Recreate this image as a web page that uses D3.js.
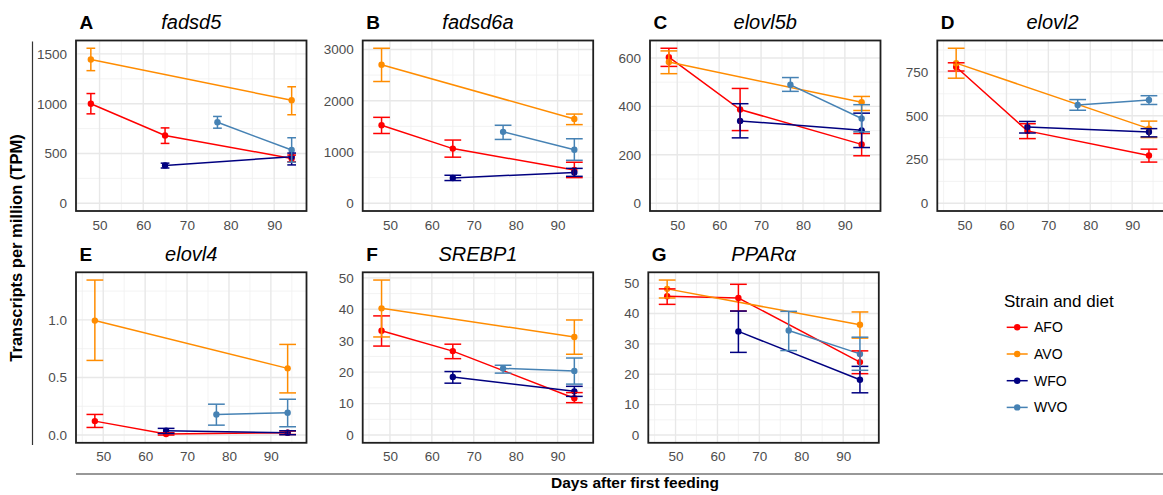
<!DOCTYPE html>
<html lang="en">
<head>
<meta charset="UTF-8"/>
<title>Transcripts per million by gene</title>
<script src="https://cdn.jsdelivr.net/npm/d3@7"></script>
<style>
body {
  margin: 0;
  background: #fff;
}
svg {
  font-family: "Liberation Sans", Arial, Helvetica, sans-serif;
}
.axis text {
  font-size: 13.5px;
  fill: #4d4d4d;
}
.axis path {
  display: none;
}
.grid-major {
  stroke: #e8e8e8;
  stroke-width: 1.4;
}
.grid-minor {
  stroke: #f0f0f0;
  stroke-width: 0.8;
}
.frame {
  fill: none;
  stroke: #1f1f1f;
  stroke-width: 1.8;
}
.letter {
  font-size: 19px;
  font-weight: 700;
}
.gene {
  font-size: 20px;
  font-style: italic;
}
.title {
  font-size: 15.5px;
  font-weight: 700;
}
</style>
</head>
<body>
<svg id="chart" width="1163" height="495"></svg>
<script>
// panels, A..G
const letters = ['A', 'B', 'C', 'D', 'E', 'F', 'G'];
const genes = ['fadsd5', 'fadsd6a', 'elovl5b', 'elovl2', 'elovl4', 'SREBP1', 'PPARα'];

// days sampled for each group
const daysAFO = [48, 65, 94];
const daysAVO = [48, 94];
const daysWFO = [65, 94];
const daysWVO = [77, 94];

// means, lower and upper error per panel (rows = A..G)
const meanAFO = [[1000, 681, 450], [1521, 1066, 650], [603, 387, 243], [778, 413, 273], [0.121, 0.009, 0.02], [33.2, 26.7, 11.7], [45.7, 45.1, 24.0]];
const lowAFO  = [[898, 601, 417], [1361, 899, 500], [565, 300, 196], [755, 369, 235], [0.066, 0.0, 0.005], [28.3, 24.3, 10.3], [43.0, 40.8, 20.2]];
const highAFO = [[1102, 757, 484], [1676, 1233, 800], [640, 474, 288], [802, 454, 309], [0.179, 0.02, 0.035], [37.9, 28.9, 13.5], [48.1, 49.6, 27.7]];

const meanAVO = [[1444, 1034], [2703, 1643], [583, 417], [800, 426], [0.994, 0.579], [40.3, 31.2], [48.1, 36.3]];
const lowAVO  = [[1332, 889], [2375, 1534], [535, 383], [714, 375], [0.648, 0.366], [31.2, 25.7], [45.1, 31.9]];
const highAVO = [[1557, 1170], [3024, 1740], [629, 441], [885, 469], [1.346, 0.787], [49.3, 36.6], [51.0, 40.5]];

const meanWFO = [[380, 467], [494, 600], [340, 301], [435, 407], [0.037, 0.02], [18.5, 13.9], [34.1, 18.2]];
const lowWFO  = [[354, 385], [443, 525], [270, 230], [401, 379], [0.014, 0.003], [16.5, 12.3], [27.2, 13.9]];
const highWFO = [[403, 504], [546, 680], [411, 372], [467, 426], [0.058, 0.037], [20.2, 15.5], [40.8, 22.6]];

const meanWVO = [[813, 535], [1393, 1045], [489, 350], [561, 590], [0.179, 0.193], [21.2, 20.4], [34.4, 26.7]];
const lowWVO  = [[754, 413], [1245, 838], [462, 295], [531, 564], [0.086, 0.072], [19.7, 16.2], [27.8, 21.3]];
const highWVO = [[872, 658], [1522, 1258], [519, 407], [592, 614], [0.268, 0.311], [22.2, 24.5], [40.7, 32.2]];

// error bar half width in days
const capHalf = [1, 2, 2, 2, 2, 2, 2];

// tick labels
const xTicks = [50, 60, 70, 80, 90];
const yTicks = [
  [0, 500, 1000, 1500],
  [0, 1000, 2000, 3000],
  [0, 200, 400, 600],
  [0, 250, 500, 750],
  [0, 0.5, 1.0],
  [0, 10, 20, 30, 40, 50],
  [0, 10, 20, 30, 40, 50]
];

const groups = ['AFO', 'AVO', 'WFO', 'WVO'];
const colors = ['#ff0000', '#ff8c00', '#000080', '#4682b4'];

const series = [
  { name: 'AFO', days: daysAFO, mean: meanAFO, low: lowAFO, high: highAFO },
  { name: 'AVO', days: daysAVO, mean: meanAVO, low: lowAVO, high: highAVO },
  { name: 'WFO', days: daysWFO, mean: meanWFO, low: lowWFO, high: highWFO },
  { name: 'WVO', days: daysWVO, mean: meanWVO, low: lowWVO, high: highWVO }
];

const color = d3.scaleOrdinal().domain(groups).range(colors);

// panel frames
const top1 = 40.5, top2 = 272.3, ph = 170.5, pw = 230.5;
const boxes = [
  { x: 76, y: top1 }, { x: 362.7, y: top1 }, { x: 650, y: top1 }, { x: 937.3, y: top1 },
  { x: 76, y: top2 }, { x: 362.7, y: top2 }, { x: 648.3, y: top2 }
];

const svg = d3.select('#chart');

genes.forEach((gene, i) => {
  const b = boxes[i];
  const g = svg.append('g').attr('transform', `translate(${b.x}, ${b.y})`);

  const allDays = series.flatMap(s => s.days);
  const d0 = d3.min(allDays) - capHalf[i];
  const d1 = d3.max(allDays) + capHalf[i];
  const dPad = (d1 - d0) * 0.05;
  const x = d3.scaleLinear().domain([d0 - dPad, d1 + dPad]).range([0, pw]);

  const yMax = d3.max(series, s => d3.max(s.high[i]));
  const y = d3.scaleLinear().domain([-0.05 * yMax, 1.05 * yMax]).range([ph, 0]);

  // grid
  const yt = yTicks[i];
  const step = yt[1] - yt[0];
  const yMinor = d3.range(yt[0] - step / 2, yt[yt.length - 1] + step, step)
    .filter(v => v > y.domain()[0] && v < y.domain()[1]);
  const xMinor = d3.range(45, 100, 10).filter(v => v > x.domain()[0] && v < x.domain()[1]);

  g.append('rect').attr('width', pw).attr('height', ph).attr('fill', '#fff');

  g.selectAll('.ym').data(yMinor).enter().append('line')
    .attr('class', 'grid-minor')
    .attr('x1', 0).attr('x2', pw)
    .attr('y1', d => y(d)).attr('y2', d => y(d));
  g.selectAll('.xm').data(xMinor).enter().append('line')
    .attr('class', 'grid-minor')
    .attr('y1', 0).attr('y2', ph)
    .attr('x1', d => x(d)).attr('x2', d => x(d));
  g.selectAll('.yM').data(yt).enter().append('line')
    .attr('class', 'grid-major')
    .attr('x1', 0).attr('x2', pw)
    .attr('y1', d => y(d)).attr('y2', d => y(d));
  g.selectAll('.xM').data(xTicks).enter().append('line')
    .attr('class', 'grid-major')
    .attr('y1', 0).attr('y2', ph)
    .attr('x1', d => x(d)).attr('x2', d => x(d));

  // lines
  const line = d3.line().x(d => x(d.day)).y(d => y(d.v));
  series.forEach(s => {
    const pts = s.days.map((day, k) => ({ day: day, v: s.mean[i][k] }));
    g.append('path')
      .attr('d', line(pts))
      .attr('fill', 'none')
      .attr('stroke', color(s.name))
      .attr('stroke-width', 1.5);
  });

  // points
  series.forEach(s => {
    g.selectAll(null).data(s.days).enter().append('circle')
      .attr('cx', d => x(d))
      .attr('cy', (d, k) => y(s.mean[i][k]))
      .attr('r', 3.2)
      .attr('fill', color(s.name));
  });

  // error bars
  series.forEach(s => {
    const eb = g.selectAll(null).data(s.days).enter().append('g')
      .attr('stroke', color(s.name))
      .attr('stroke-width', 1.5);
    eb.append('line')
      .attr('x1', d => x(d)).attr('x2', d => x(d))
      .attr('y1', (d, k) => y(s.low[i][k])).attr('y2', (d, k) => y(s.high[i][k]));
    eb.append('line')
      .attr('x1', d => x(d - capHalf[i])).attr('x2', d => x(d + capHalf[i]))
      .attr('y1', (d, k) => y(s.low[i][k])).attr('y2', (d, k) => y(s.low[i][k]));
    eb.append('line')
      .attr('x1', d => x(d - capHalf[i])).attr('x2', d => x(d + capHalf[i]))
      .attr('y1', (d, k) => y(s.high[i][k])).attr('y2', (d, k) => y(s.high[i][k]));
  });

  g.append('rect').attr('class', 'frame').attr('width', pw).attr('height', ph);

  // axes
  const yFmt = i === 4 ? d3.format('.1f') : d3.format('d');
  g.append('g').attr('class', 'axis')
    .call(d3.axisLeft(y).tickValues(yt).tickFormat(yFmt).tickSize(0).tickPadding(9));
  g.append('g').attr('class', 'axis')
    .attr('transform', `translate(0, ${ph})`)
    .call(d3.axisBottom(x).tickValues(xTicks).tickSize(0).tickPadding(9));

  // titles
  g.append('text').attr('class', 'letter')
    .attr('x', 3.5).attr('y', -11.5)
    .text(letters[i]);
  g.append('text').attr('class', 'gene')
    .attr('x', pw / 2).attr('y', -11.5)
    .attr('text-anchor', 'middle')
    .text(gene);
});

// shared axis titles
svg.append('line')
  .attr('x1', 32.5).attr('x2', 32.5)
  .attr('y1', 41.5).attr('y2', 445)
  .attr('stroke', '#333').attr('stroke-width', 1.2);
svg.append('text').attr('class', 'title')
  .style('font-size', '16.5px')
  .attr('transform', 'translate(22, 248) rotate(-90)')
  .attr('text-anchor', 'middle')
  .text('Transcripts per million  (TPM)');

svg.append('line')
  .attr('x1', 76).attr('x2', 1163)
  .attr('y1', 474).attr('y2', 474)
  .attr('stroke', '#333').attr('stroke-width', 1.2);
svg.append('text').attr('class', 'title')
  .attr('x', 635).attr('y', 488)
  .attr('text-anchor', 'middle')
  .text('Days after first feeding');

// legend
const legend = svg.append('g').attr('transform', 'translate(1004, 0)');
legend.append('text')
  .attr('x', 0).attr('y', 307)
  .style('font-size', '17px')
  .text('Strain and diet');
const items = legend.selectAll('.item').data(groups).enter().append('g')
  .attr('transform', (d, k) => `translate(0, ${327.3 + k * 26.7})`);
items.append('line')
  .attr('x1', 2.7).attr('x2', 23.7)
  .attr('stroke', d => color(d)).attr('stroke-width', 1.5);
items.append('circle')
  .attr('cx', 13.2).attr('r', 3.2)
  .attr('fill', d => color(d));
items.append('text')
  .attr('x', 30).attr('dy', '0.36em')
  .style('font-size', '14px')
  .text(d => d);
</script>
</body>
</html>
